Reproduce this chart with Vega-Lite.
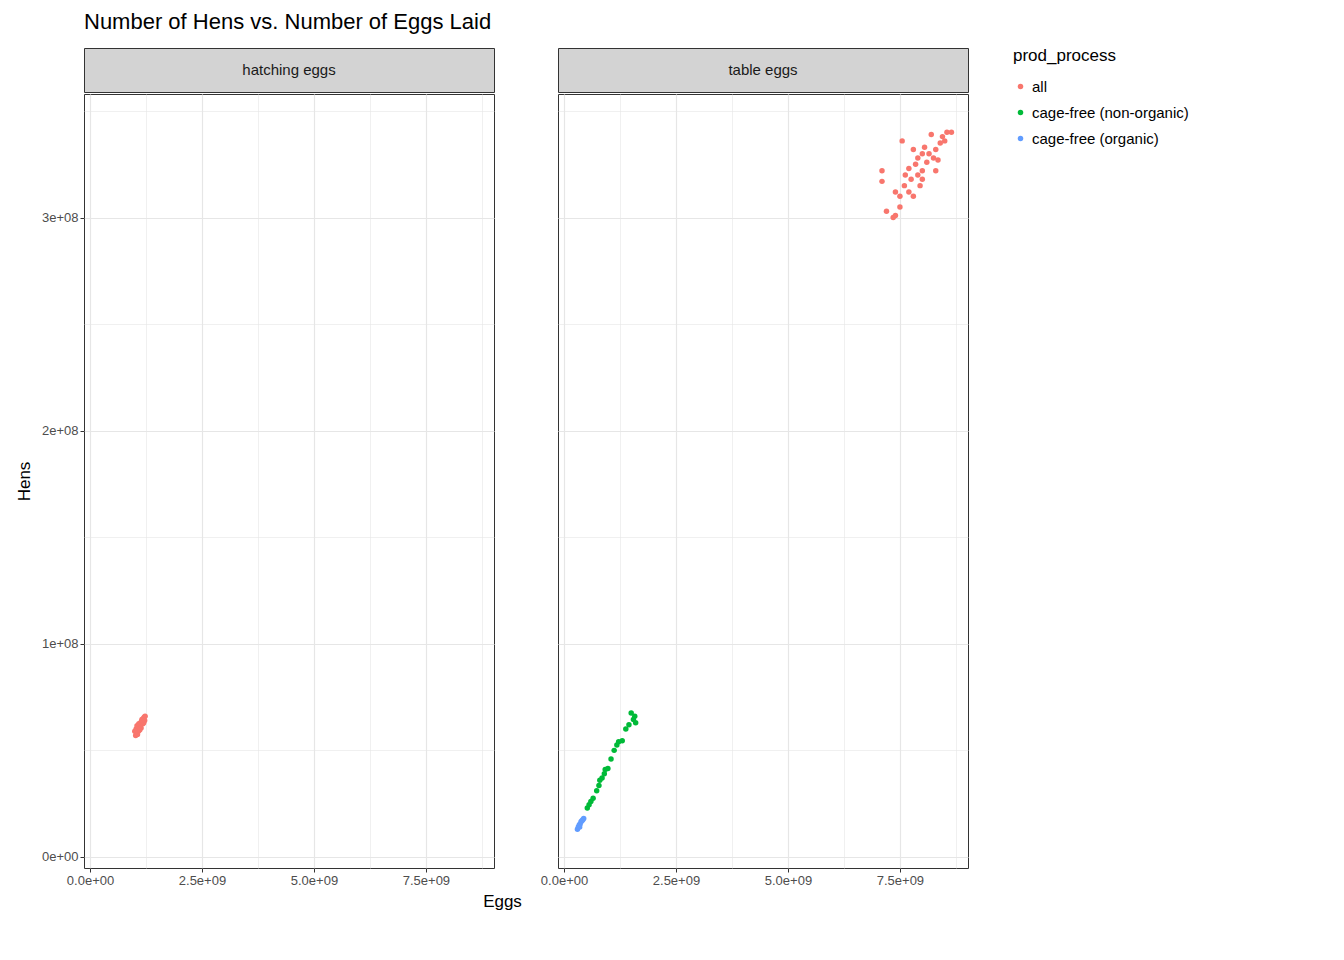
{
  "$schema": "https://vega.github.io/schema/vega-lite/v6.json",
  "padding": {"left": 14, "top": 10, "right": 10, "bottom": 10},
  "background": "white",
  "title": {"text": "Number of Hens vs. Number of Eggs Laid", "anchor": "start", "frame": "group", "fontSize": 22, "fontWeight": "normal", "font": "Liberation Sans", "color": "black", "offset": 14},
  "config": {
    "font": "Liberation Sans",
    "concat": {"spacing": 17},
    "axis": {"labelColor": "#4d4d4d", "labelFontSize": 13, "tickColor": "#333", "domain": false, "gridColor": "#e6e6e6", "titleFontSize": 17, "titleFontWeight": "normal", "titleColor": "black"},
    "legend": {"titleFontSize": 17, "titleFontWeight": "normal", "labelFontSize": 15, "symbolType": "circle", "symbolSize": 30, "rowPadding": 10, "titlePadding": 14, "offset": 44}
  },
  "datasets": {
    "pts": [
      {"t":"hatching eggs","p":"all","e":1.02e9,"h":5.70e7},{"t":"hatching eggs","p":"all","e":1.04e9,"h":5.78e7},{"t":"hatching eggs","p":"all","e":1.05e9,"h":5.85e7},{"t":"hatching eggs","p":"all","e":1.06e9,"h":5.75e7},{"t":"hatching eggs","p":"all","e":1.08e9,"h":5.9e7},{"t":"hatching eggs","p":"all","e":1.03e9,"h":6.0e7},{"t":"hatching eggs","p":"all","e":1.07e9,"h":6.05e7},{"t":"hatching eggs","p":"all","e":1.1e9,"h":6.1e7},{"t":"hatching eggs","p":"all","e":1.12e9,"h":6.2e7},{"t":"hatching eggs","p":"all","e":1.05e9,"h":6.15e7},{"t":"hatching eggs","p":"all","e":1.09e9,"h":6.25e7},{"t":"hatching eggs","p":"all","e":1.13e9,"h":6.3e7},{"t":"hatching eggs","p":"all","e":1.15e9,"h":6.35e7},{"t":"hatching eggs","p":"all","e":1.17e9,"h":6.4e7},{"t":"hatching eggs","p":"all","e":1.19e9,"h":6.5e7},{"t":"hatching eggs","p":"all","e":1.21e9,"h":6.55e7},{"t":"hatching eggs","p":"all","e":1.23e9,"h":6.6e7},{"t":"hatching eggs","p":"all","e":1.14e9,"h":6.05e7},{"t":"hatching eggs","p":"all","e":1.11e9,"h":5.95e7},{"t":"hatching eggs","p":"all","e":1.18e9,"h":6.25e7},{"t":"hatching eggs","p":"all","e":1.2e9,"h":6.3e7},{"t":"hatching eggs","p":"all","e":1.0e9,"h":5.9e7},{"t":"hatching eggs","p":"all","e":1.16e9,"h":6.45e7},{"t":"hatching eggs","p":"all","e":1.22e9,"h":6.4e7},
      {"t":"table eggs","p":"all","e":7.1e9,"h":3.22e8},{"t":"table eggs","p":"all","e":7.1e9,"h":3.17e8},{"t":"table eggs","p":"all","e":7.2e9,"h":3.03e8},{"t":"table eggs","p":"all","e":7.35e9,"h":3.0e8},{"t":"table eggs","p":"all","e":7.4e9,"h":3.01e8},{"t":"table eggs","p":"all","e":7.4e9,"h":3.12e8},{"t":"table eggs","p":"all","e":7.5e9,"h":3.05e8},{"t":"table eggs","p":"all","e":7.5e9,"h":3.1e8},{"t":"table eggs","p":"all","e":7.55e9,"h":3.36e8},{"t":"table eggs","p":"all","e":7.6e9,"h":3.15e8},{"t":"table eggs","p":"all","e":7.62e9,"h":3.2e8},{"t":"table eggs","p":"all","e":7.7e9,"h":3.12e8},{"t":"table eggs","p":"all","e":7.7e9,"h":3.23e8},{"t":"table eggs","p":"all","e":7.75e9,"h":3.18e8},{"t":"table eggs","p":"all","e":7.8e9,"h":3.32e8},{"t":"table eggs","p":"all","e":7.85e9,"h":3.25e8},{"t":"table eggs","p":"all","e":7.9e9,"h":3.2e8},{"t":"table eggs","p":"all","e":7.9e9,"h":3.28e8},{"t":"table eggs","p":"all","e":7.95e9,"h":3.15e8},{"t":"table eggs","p":"all","e":8.0e9,"h":3.3e8},{"t":"table eggs","p":"all","e":8.0e9,"h":3.22e8},{"t":"table eggs","p":"all","e":8.05e9,"h":3.33e8},{"t":"table eggs","p":"all","e":8.1e9,"h":3.26e8},{"t":"table eggs","p":"all","e":8.15e9,"h":3.3e8},{"t":"table eggs","p":"all","e":8.2e9,"h":3.39e8},{"t":"table eggs","p":"all","e":8.25e9,"h":3.28e8},{"t":"table eggs","p":"all","e":8.3e9,"h":3.32e8},{"t":"table eggs","p":"all","e":8.35e9,"h":3.27e8},{"t":"table eggs","p":"all","e":8.4e9,"h":3.35e8},{"t":"table eggs","p":"all","e":8.45e9,"h":3.38e8},{"t":"table eggs","p":"all","e":8.5e9,"h":3.36e8},{"t":"table eggs","p":"all","e":8.55e9,"h":3.4e8},{"t":"table eggs","p":"all","e":8.65e9,"h":3.4e8},{"t":"table eggs","p":"all","e":7.8e9,"h":3.1e8},{"t":"table eggs","p":"all","e":8.0e9,"h":3.18e8},{"t":"table eggs","p":"all","e":8.3e9,"h":3.22e8},
      {"t":"table eggs","p":"cage-free (non-organic)","e":5.2e8,"h":2.3e7},{"t":"table eggs","p":"cage-free (non-organic)","e":5.6e8,"h":2.45e7},{"t":"table eggs","p":"cage-free (non-organic)","e":6.0e8,"h":2.6e7},{"t":"table eggs","p":"cage-free (non-organic)","e":6.5e8,"h":2.75e7},{"t":"table eggs","p":"cage-free (non-organic)","e":7.3e8,"h":3.1e7},{"t":"table eggs","p":"cage-free (non-organic)","e":7.8e8,"h":3.35e7},{"t":"table eggs","p":"cage-free (non-organic)","e":8.0e8,"h":3.6e7},{"t":"table eggs","p":"cage-free (non-organic)","e":8.5e8,"h":3.7e7},{"t":"table eggs","p":"cage-free (non-organic)","e":9.0e8,"h":3.9e7},{"t":"table eggs","p":"cage-free (non-organic)","e":9.2e8,"h":4.1e7},{"t":"table eggs","p":"cage-free (non-organic)","e":9.8e8,"h":4.15e7},{"t":"table eggs","p":"cage-free (non-organic)","e":1.05e9,"h":4.6e7},{"t":"table eggs","p":"cage-free (non-organic)","e":1.12e9,"h":5.0e7},{"t":"table eggs","p":"cage-free (non-organic)","e":1.18e9,"h":5.25e7},{"t":"table eggs","p":"cage-free (non-organic)","e":1.22e9,"h":5.4e7},{"t":"table eggs","p":"cage-free (non-organic)","e":1.3e9,"h":5.45e7},{"t":"table eggs","p":"cage-free (non-organic)","e":1.38e9,"h":6.0e7},{"t":"table eggs","p":"cage-free (non-organic)","e":1.45e9,"h":6.2e7},{"t":"table eggs","p":"cage-free (non-organic)","e":1.5e9,"h":6.75e7},{"t":"table eggs","p":"cage-free (non-organic)","e":1.55e9,"h":6.45e7},{"t":"table eggs","p":"cage-free (non-organic)","e":1.6e9,"h":6.3e7},{"t":"table eggs","p":"cage-free (non-organic)","e":1.58e9,"h":6.6e7},
      {"t":"table eggs","p":"cage-free (organic)","e":3.0e8,"h":1.3e7},{"t":"table eggs","p":"cage-free (organic)","e":3.2e8,"h":1.4e7},{"t":"table eggs","p":"cage-free (organic)","e":3.4e8,"h":1.5e7},{"t":"table eggs","p":"cage-free (organic)","e":3.6e8,"h":1.55e7},{"t":"table eggs","p":"cage-free (organic)","e":3.8e8,"h":1.65e7},{"t":"table eggs","p":"cage-free (organic)","e":4.0e8,"h":1.7e7},{"t":"table eggs","p":"cage-free (organic)","e":4.2e8,"h":1.75e7},{"t":"table eggs","p":"cage-free (organic)","e":4.4e8,"h":1.8e7},{"t":"table eggs","p":"cage-free (organic)","e":3.5e8,"h":1.4e7}
    ],
    "strips": [{"t":"hatching eggs"},{"t":"table eggs"}]
  },
  "hconcat": [
    {"vconcat": [
      {"width": 410, "height": 44, "view": {"fill": "#d3d3d3", "stroke": "#333"},
       "data": {"name": "strips"}, "transform": [{"filter": "datum.t == 'hatching eggs'"}],
       "mark": {"type": "text", "fontSize": 15, "color": "#1a1a1a"},
       "encoding": {"text": {"field": "t"},
         "x": {"datum": 0.5, "type": "quantitative", "scale": {"domain": [0, 1]}, "axis": null},
         "y": {"datum": 0.5, "type": "quantitative", "scale": {"domain": [0, 1]}, "axis": null}}},
      {"width": 410, "height": 774, "view": {"stroke": "#333"},
       "data": {"name": "pts"}, "transform": [{"filter": "datum.t == 'hatching eggs'"}],
       "mark": {"type": "circle", "size": 30, "opacity": 1},
       "encoding": {
         "x": {"field": "e", "type": "quantitative", "scale": {"domain": [-1.34e8, 9.02e9], "nice": false, "zero": false},
           "axis": {"values": [0, 1.25e9, 2.5e9, 3.75e9, 5e9, 6.25e9, 7.5e9, 8.75e9], "title": "Eggs", "titleX": 418, "titleAlign": "center", "titlePadding": 6,
             "labelExpr": "datum.value % 2.5e9 == 0 ? replace(format(datum.value, '.1e'), regexp('e\\\\+(\\\\d)$'), 'e+0$1') : ''",
             "tickSize": {"condition": {"test": "datum.value % 2.5e9 == 0", "value": 4}, "value": 0},
             "gridWidth": {"condition": {"test": "datum.value % 2.5e9 == 0", "value": 1.2}, "value": 0.6}}},
         "y": {"field": "h", "type": "quantitative", "scale": {"domain": [-5.2e6, 3.58e8], "nice": false, "zero": false},
           "axis": {"values": [0, 5e7, 1e8, 1.5e8, 2e8, 2.5e8, 3e8, 3.5e8], "title": "Hens", "titlePadding": 8,
             "labelExpr": "datum.value % 1e8 == 0 ? replace(format(datum.value, '.0e'), regexp('e\\\\+(\\\\d)$'), 'e+0$1') : ''",
             "tickSize": {"condition": {"test": "datum.value % 1e8 == 0", "value": 4}, "value": 0},
             "gridWidth": {"condition": {"test": "datum.value % 1e8 == 0", "value": 1.2}, "value": 0.6}}},
         "color": {"field": "p", "type": "nominal", "title": "prod_process",
           "scale": {"domain": ["all", "cage-free (non-organic)", "cage-free (organic)"], "range": ["#F8766D", "#00BA38", "#619CFF"]}}
       }}
    ], "spacing": 0},
    {"vconcat": [
      {"width": 410, "height": 44, "view": {"fill": "#d3d3d3", "stroke": "#333"},
       "data": {"name": "strips"}, "transform": [{"filter": "datum.t == 'table eggs'"}],
       "mark": {"type": "text", "fontSize": 15, "color": "#1a1a1a"},
       "encoding": {"text": {"field": "t"},
         "x": {"datum": 0.5, "type": "quantitative", "scale": {"domain": [0, 1]}, "axis": null},
         "y": {"datum": 0.5, "type": "quantitative", "scale": {"domain": [0, 1]}, "axis": null}}},
      {"width": 410, "height": 774, "view": {"stroke": "#333"},
       "data": {"name": "pts"}, "transform": [{"filter": "datum.t == 'table eggs'"}],
       "mark": {"type": "circle", "size": 30, "opacity": 1},
       "encoding": {
         "x": {"field": "e", "type": "quantitative", "scale": {"domain": [-1.34e8, 9.02e9], "nice": false, "zero": false},
           "axis": {"values": [0, 1.25e9, 2.5e9, 3.75e9, 5e9, 6.25e9, 7.5e9, 8.75e9], "title": null,
             "labelExpr": "datum.value % 2.5e9 == 0 ? replace(format(datum.value, '.1e'), regexp('e\\\\+(\\\\d)$'), 'e+0$1') : ''",
             "tickSize": {"condition": {"test": "datum.value % 2.5e9 == 0", "value": 4}, "value": 0},
             "gridWidth": {"condition": {"test": "datum.value % 2.5e9 == 0", "value": 1.2}, "value": 0.6}}},
         "y": {"field": "h", "type": "quantitative", "scale": {"domain": [-5.2e6, 3.58e8], "nice": false, "zero": false},
           "axis": {"values": [0, 5e7, 1e8, 1.5e8, 2e8, 2.5e8, 3e8, 3.5e8], "title": null, "labels": false, "ticks": false,
             "gridWidth": {"condition": {"test": "datum.value % 1e8 == 0", "value": 1.2}, "value": 0.6}}},
         "color": {"field": "p", "type": "nominal", "title": "prod_process",
           "scale": {"domain": ["all", "cage-free (non-organic)", "cage-free (organic)"], "range": ["#F8766D", "#00BA38", "#619CFF"]}}
       }}
    ], "spacing": 0}
  ]
}
